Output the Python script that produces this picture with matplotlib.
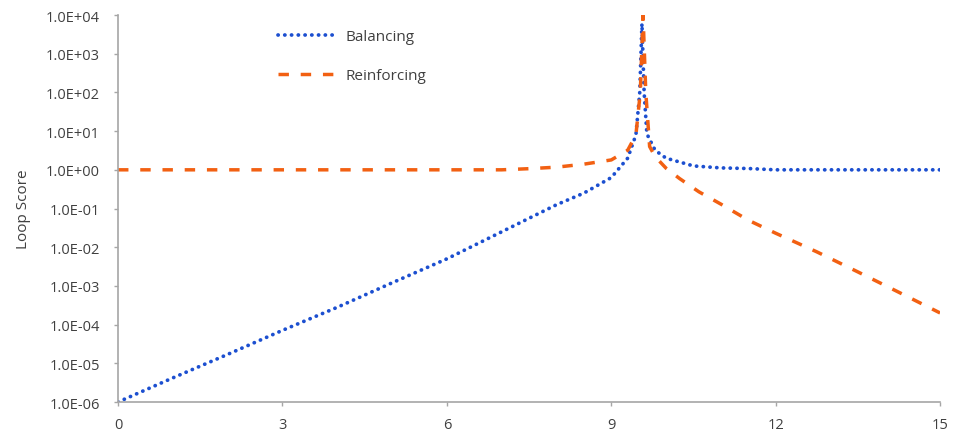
import numpy as np
import matplotlib.pyplot as plt
from matplotlib.ticker import FixedLocator, FuncFormatter, NullLocator

# values (x = time, y = loop score)
bal_x = [0, 1, 2, 3, 4, 5, 6, 7, 7.5, 8, 8.5, 9, 9.3, 9.45, 9.52, 9.56,
         9.6, 9.65, 9.8, 10, 10.5, 11, 11.5, 12, 13, 14, 15]
bal_y = [1e-6, 4.2e-6, 1.7e-5, 7.1e-5, 2.8e-4, 1.2e-3, 5.0e-3, 2.5e-2,
         5.6e-2, 0.125, 0.25, 0.63, 2.0, 8.0, 100, 6000,
         100, 8.5, 3.2, 2.0, 1.26, 1.12, 1.08, 1.0, 1.0, 1.0, 1.0]

rei_x = [0, 1, 2, 3, 4, 5, 6, 7, 7.5, 8, 8.5, 9, 9.3, 9.45, 9.53, 9.58,
         9.63, 9.7, 9.8, 10, 10.25, 10.6, 11, 11.5, 12, 12.75, 13.5, 14.2, 15]
rei_y = [1.0, 1.0, 1.0, 1.0, 1.0, 1.0, 1.0, 1.0, 1.07, 1.17, 1.4, 1.8,
         3.2, 8.0, 100, 10000, 100, 4.0, 2.2, 1.1, 0.59, 0.27, 0.13,
         0.05, 0.023, 7.6e-3, 2.3e-3, 7.4e-4, 2.0e-4]

x_ticks = [0, 3, 6, 9, 12, 15]
y_ticks = [1e-6, 1e-5, 1e-4, 1e-3, 1e-2, 1e-1, 1e0, 1e1, 1e2, 1e3, 1e4]

plt.rcParams['font.family'] = ['Open Sans', 'DejaVu Sans']

fig = plt.figure(figsize=(9.62, 4.39), dpi=100)
ax = fig.add_axes([0.1227, 0.082, 0.8545, 0.8815])

ax.plot(bal_x, bal_y, color="#1c4fd0", linewidth=2.7,
        linestyle=(0, (0.05, 1.75)), dash_capstyle="round",
        label="Balancing")
ax.plot(rei_x, rei_y, color="#f26012", linewidth=2.5,
        linestyle=(0, (3.0, 3.4)), label="Reinforcing")

ax.set_yscale("log")
ax.set_xlim(0, 15)
ax.set_ylim(1e-6, 1e4)
ax.xaxis.set_major_locator(FixedLocator(x_ticks))
ax.yaxis.set_major_locator(FixedLocator(y_ticks))
ax.yaxis.set_minor_locator(NullLocator())

def sci(v, pos):
    e = int(round(np.log10(v)))
    return f"1.0E{'+' if e >= 0 else '-'}{abs(e):02d}"

ax.yaxis.set_major_formatter(FuncFormatter(sci))

for side in ("top", "right"):
    ax.spines[side].set_visible(False)
for side in ("left", "bottom"):
    ax.spines[side].set_color("#a6a6a6")
    ax.spines[side].set_linewidth(1.2)

ax.tick_params(axis="both", colors="#a6a6a6", length=3, width=1.0,
               labelcolor="#404040", labelsize=10.5)
ax.tick_params(axis="y", pad=10)
ax.tick_params(axis="x", pad=8)

ax.set_ylabel("Loop Score", fontsize=11, color="#404040", labelpad=11)

ax.legend(loc="upper left", bbox_to_anchor=(278 / 962, (439 - 30) / 439),
          bbox_transform=fig.transFigure, frameon=False, fontsize=11,
          handlelength=3.9, handletextpad=0.5, labelspacing=1.6,
          borderpad=0, borderaxespad=0, labelcolor="#404040")

fig.savefig("out.png", dpi=100)
